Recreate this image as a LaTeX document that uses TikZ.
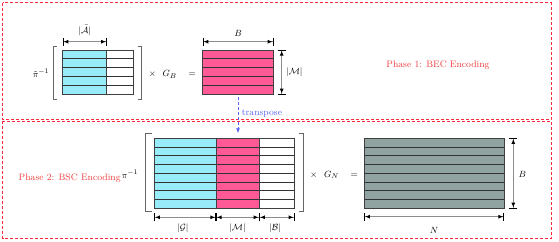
\documentclass[tikz,border=0pt]{standalone}
\usetikzlibrary{arrows.meta}
\definecolor{cyanc}{RGB}{152,236,250}
\definecolor{pinkc}{RGB}{255,90,150}
\definecolor{grayc}{RGB}{145,163,160}
\definecolor{redd}{RGB}{255,40,60}
\definecolor{redt}{RGB}{240,60,60}
\definecolor{bluet}{RGB}{90,100,240}
\begin{document}
\begin{tikzpicture}[x=1pt,y=-1pt,
  font=\fontsize{9.4}{11}\selectfont,
  cell/.style={draw=black!75, line width=0.8pt, inner sep=0pt, outer sep=0pt},
  rowline/.style={black!80, line width=0.8pt},
  brack/.style={black!60, line width=0.8pt},
  dimline/.style={black!45, line width=1.4pt,
    {Bar[black,width=8pt,line width=0.6pt]Latex[black,length=5pt,width=4pt]}-{Latex[black,length=5pt,width=4pt]Bar[black,width=8pt,line width=0.6pt]}},
  phasebox/.style={draw=redd, line width=0.8pt, dash pattern=on 3pt off 2pt},
  phaselabel/.style={text=redt},
  lbl/.style={inner sep=0.5pt}
]
\useasboundingbox (0,0) rectangle (559,241);
% phase boxes
\draw[phasebox] (2.5,2.7) rectangle (551,119.5);
\draw[phasebox] (2.5,121) rectangle (551.5,238.3);

% ---------- Phase 1 ----------
\node[cell, fill=cyanc, minimum width=44pt, minimum height=44.3pt] (tc) at (84.7,72.15) {};
\node[cell, fill=white, minimum width=26.6pt, minimum height=44.3pt] (tw) at (120,72.15) {};
\node[cell, fill=pinkc, minimum width=70.6pt, minimum height=44.3pt] (tp) at (238,72.15) {};
\foreach \i in {1,...,4}{
  \draw[rowline] (62.7,50+\i*8.86) -- (133.3,50+\i*8.86);
  \draw[rowline] (202.7,50+\i*8.86) -- (273.3,50+\i*8.86);
}
\draw[cell] (tc.north west) rectangle (tw.south east);
\draw[brack] (57.3,46.7) -- (53.3,46.7) -- (53.3,99) -- (57.3,99);
\draw[brack] (137.7,46.7) -- (141.7,46.7) -- (141.7,99) -- (137.7,99);
\node[lbl] (pit) at (41,73) {$\tilde{\pi}^{-1}$};
\node[lbl] (xgb) at (172.3,74.5) {$\times\;\;\, G_B\;\;\;\, =$};
% dimensions
\coordinate (a1) at (62.7,41.7); \coordinate (a2) at (106.7,41.7);
\draw[dimline] (a1) -- (a2);
\node[lbl, anchor=south] (la) at (84.7,36) {$|\bar{\mathcal{A}}|$};
\coordinate (b1) at (202.7,41.7); \coordinate (b2) at (273.3,41.7);
\draw[dimline] (b1) -- (b2);
\node[lbl] (lb) at (238,33.5) {$B$};
\coordinate (m1) at (281.7,50); \coordinate (m2) at (281.7,94.3);
\draw[dimline] (m1) -- (m2);
\node[lbl, anchor=west] (lm) at (285.5,72.2) {$|\mathcal{M}|$};
\node[phaselabel] (p1) at (438,64.7) {Phase 1: BEC Encoding};

% ---------- Phase 2 ----------
\node[cell, fill=cyanc, minimum width=61.7pt, minimum height=70pt] (bc) at (185.15,173.3) {};
\node[cell, fill=pinkc, minimum width=43.3pt, minimum height=70pt] (bp) at (237.65,173.3) {};
\node[cell, fill=white, minimum width=35pt, minimum height=70pt] (bw) at (276.8,173.3) {};
\node[cell, fill=grayc, minimum width=139.7pt, minimum height=70pt] (bg) at (434.15,173.3) {};
\foreach \i in {1,...,7}{
  \draw[rowline] (154.3,138.3+\i*8.75) -- (294.3,138.3+\i*8.75);
  \draw[rowline] (364.3,138.3+\i*8.75) -- (504,138.3+\i*8.75);
}
\draw[cell] (bc.north west) rectangle (bw.south east);
\draw[cell] (bp.north west) rectangle (bp.south east);
\draw[cell] (bg.north west) rectangle (bg.south east);
\draw[brack] (151.7,133.3) -- (145.7,133.3) -- (145.7,211.7) -- (151.7,211.7);
\draw[brack] (299.3,133.3) -- (303.3,133.3) -- (303.3,211.7) -- (299.3,211.7);
\node[lbl] (pib) at (130,174) {$\pi^{-1}$};
\node[lbl] (xgn) at (334,175) {$\times\;\;\, G_N\;\;\;\, =$};
\node[phaselabel] (p2) at (69.7,178.3) {Phase 2: BSC Encoding};
% dimensions
\coordinate (g1) at (154.3,217.3); \coordinate (g2) at (216,217.3);
\coordinate (g3) at (259.3,217.3); \coordinate (g4) at (294.3,217.3);
\draw[dimline] (g1) -- (g2);
\draw[dimline] (g2) -- (g3);
\draw[dimline] (g3) -- (g4);
\node[lbl] (lg) at (183,227.8) {$|\mathcal{G}|$};
\node[lbl] (lm2) at (237.5,227.8) {$|\mathcal{M}|$};
\node[lbl] (lb2) at (275,227.8) {$|\mathcal{B}|$};
\coordinate (n1) at (364.3,216.7); \coordinate (n2) at (504,216.7);
\draw[dimline] (n1) -- (n2);
\node[lbl] (ln) at (434,230.7) {$N$};
\coordinate (v1) at (513.3,138.3); \coordinate (v2) at (513.3,208.3);
\draw[dimline] (v1) -- (v2);
\node[lbl, anchor=west] (lbv) at (518,174) {$B$};

% transpose
\draw[bluet, line width=0.8pt, dash pattern=on 3pt off 2pt, -{Latex[length=5pt,width=4pt]},
  shorten <=3pt, shorten >=5pt] (tp.south) -- (tp.south |- bp.north);
\node[lbl, text=bluet] (tr) at (262,114) {transpose};
\end{tikzpicture}
\end{document}
